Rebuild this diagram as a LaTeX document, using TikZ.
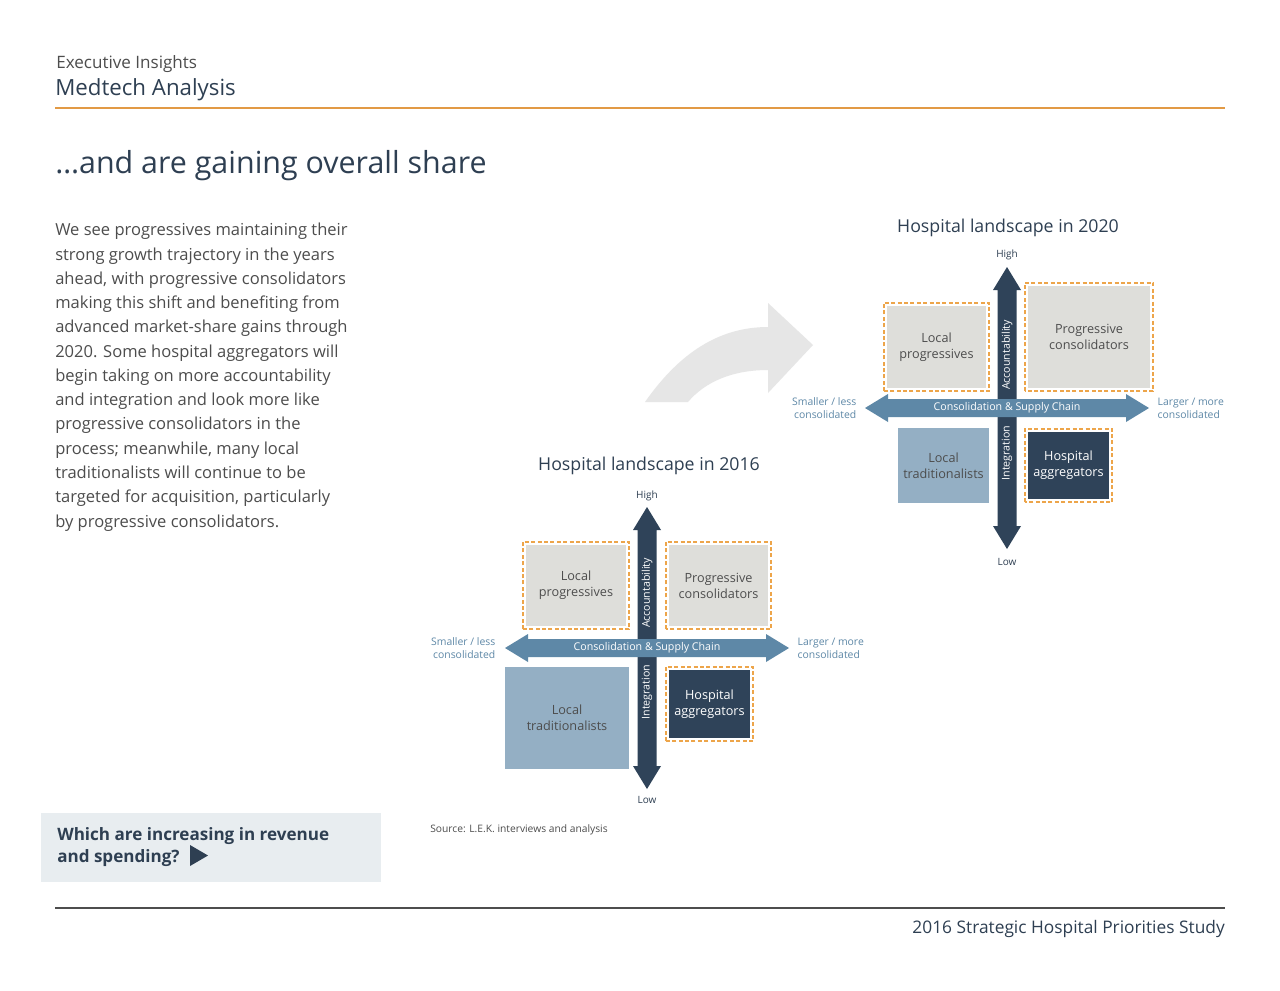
\documentclass[tikz,border=0pt]{standalone}
\usepackage{fontspec}
\setmainfont{Open Sans}
\definecolor{Slate}{HTML}{2E3F52}
\definecolor{Navy}{HTML}{2F4359}
\definecolor{Steel}{HTML}{5E88A7}
\definecolor{Mist}{HTML}{94AFC4}
\definecolor{Stone}{HTML}{DEDEDA}
\definecolor{Amber}{HTML}{EDA54A}
\definecolor{Rule}{HTML}{E29A45}
\definecolor{Graphite}{HTML}{4D4D4D}
\definecolor{Haze}{HTML}{E8EDF0}
\definecolor{Swoosh}{HTML}{E6E6E6}

\tikzset{
  quad/.style={inner sep=0pt, align=center, font=\fontsize{9.5}{12}\selectfont, text=Graphite},
  ring/.style={Amber, line width=1.35pt, dash pattern=on 3pt off 1.8pt},
  endlab/.style={font=\fontsize{7.5}{9}\selectfont, text=Slate},
  sidelab/.style={font=\fontsize{7.8}{9.7}\selectfont, text=Steel},
  barlab/.style={font=\fontsize{8}{9}\selectfont, text=white, inner sep=0pt},
  charthead/.style={font=\fontsize{13.3}{16}\selectfont, text=Slate}
}

\begin{document}
\begin{tikzpicture}[x=0.75pt,y=-0.75pt]
\useasboundingbox[fill=white] (0,0) rectangle (1280,990);
% header
\node[anchor=base west, inner sep=0pt, text=Graphite, font=\fontsize{12.8}{14}\selectfont] (kicker) at (56,68) {Executive Insights};
\node[anchor=base west, inner sep=0pt, text=Slate, font=\fontsize{16.7}{20}\selectfont] (series) at (55,95) {Medtech Analysis};
\draw[Rule, line width=0.8pt] (55,108) -- (1225,108);
\node[anchor=base west, inner sep=0pt, text=Slate, font=\fontsize{22.8}{26}\selectfont] (headline) at (55,173) {…and are gaining overall share};
% body copy
\node[anchor=north west, inner sep=0pt, align=left, text=Graphite, font=\fontsize{12.4}{18.2}\selectfont] (copy) at (55,223)
  {We see progressives maintaining their\\strong growth trajectory in the years\\ahead, with progressive consolidators\\making this shift and benefiting from\\advanced market-share gains through\\2020. Some hospital aggregators will\\begin taking on more accountability\\and integration and look more like\\progressive consolidators in the\\process; meanwhile, many local\\traditionalists will continue to be\\targeted for acquisition, particularly\\by progressive consolidators.};
% question box
\fill[Haze] (41,813) rectangle (381,882);
\node[anchor=north west, inner sep=0pt, align=left, text=Slate, font=\bfseries\fontsize{12.8}{16.5}\selectfont] (question) at (57,827) {Which are increasing in revenue\\and spending?};
\fill[Slate] (190,845) -- (208,855.5) -- (190,866) -- cycle;

% swoosh between the years
\fill[Swoosh] (645,402) .. controls (680,352) and (720,327) .. (768,327) -- (768,303) -- (813,345)
  -- (768,393) -- (768,370) .. controls (732,370) and (705,382) .. (688,402) -- cycle;

% 2016 landscape
\node[charthead] (head16) at (649,466) {Hospital landscape in 2016};
\begin{scope}[shift={(647,648)}]
\fill[Navy] (0,-141) -- (14,-118) -- (9.5,-118) -- (9.5,118) -- (14,118) -- (0,141) -- (-14,118) -- (-9.5,118) -- (-9.5,-118) -- (-14,-118) -- cycle;
\fill[Steel] (-142,0) -- (-119,-14) -- (-119,-9) -- (119,-9) -- (119,-14) -- (142,0) -- (119,14) -- (119,9) -- (-119,9) -- (-119,14) -- cycle;
\node[barlab, rotate=90] (acc16) at (0,-55) {Accountability};
\node[barlab, rotate=90] (int16) at (0,44) {Integration};
\node[barlab] (con16) at (0,0) {Consolidation \& Supply Chain};
\node[endlab] (hi16) at (0,-152) {High};
\node[endlab] (lo16) at (0,152) {Low};
\node[sidelab, anchor=east, align=right] (sm16) at (-147,0) {Smaller / less\\consolidated};
\node[sidelab, anchor=west, align=left] (lg16) at (146,0) {Larger / more\\consolidated};
\end{scope}
\node[quad, fill=Stone, minimum width=75pt, minimum height=60.75pt] (lp16) at (576,585.5) {Local\\progressives};
\draw[ring] ([shift={(-3,3)}]lp16.south west) rectangle ([shift={(3,-3)}]lp16.north east);
\node[quad, fill=Stone, minimum width=74.25pt, minimum height=60.75pt] (pc16) at (718.5,585.5) {Progressive\\consolidators};
\draw[ring] ([shift={(-3,3)}]pc16.south west) rectangle ([shift={(3,-3)}]pc16.north east);
\node[quad, fill=Mist, minimum width=93pt, minimum height=76.5pt] (lt16) at (567,718) {Local\\traditionalists};
\node[quad, fill=Navy, text=white, minimum width=60.75pt, minimum height=51pt] (ha16) at (709.5,704) {Hospital\\aggregators};
\draw[ring] ([shift={(-3,3)}]ha16.south west) rectangle ([shift={(3,-3)}]ha16.north east);

% 2020 landscape
\node[charthead] (head20) at (1008,228) {Hospital landscape in 2020};
\begin{scope}[shift={(1007,408)}]
\fill[Navy] (0,-141) -- (14,-118) -- (9.5,-118) -- (9.5,118) -- (14,118) -- (0,141) -- (-14,118) -- (-9.5,118) -- (-9.5,-118) -- (-14,-118) -- cycle;
\fill[Steel] (-142,0) -- (-119,-14) -- (-119,-9) -- (119,-9) -- (119,-14) -- (142,0) -- (119,14) -- (119,9) -- (-119,9) -- (-119,14) -- cycle;
\node[barlab, rotate=90] (acc20) at (0,-53) {Accountability};
\node[barlab, rotate=90] (int20) at (0,45) {Integration};
\node[barlab] (con20) at (0,0) {Consolidation \& Supply Chain};
\node[endlab] (hi20) at (0,-153) {High};
\node[endlab] (lo20) at (0,154) {Low};
\node[sidelab, anchor=east, align=right] (sm20) at (-146,0) {Smaller / less\\consolidated};
\node[sidelab, anchor=west, align=left] (lg20) at (146,0) {Larger / more\\consolidated};
\end{scope}
\node[quad, fill=Stone, minimum width=74.25pt, minimum height=61.5pt] (lp20) at (936.5,347) {Local\\progressives};
\draw[ring] ([shift={(-3,3)}]lp20.south west) rectangle ([shift={(3,-3)}]lp20.north east);
\node[quad, fill=Stone, minimum width=91.5pt, minimum height=76.5pt] (pc20) at (1089,337) {Progressive\\consolidators};
\draw[ring] ([shift={(-3,3)}]pc20.south west) rectangle ([shift={(3,-3)}]pc20.north east);
\node[quad, fill=Mist, minimum width=68.25pt, minimum height=56.25pt] (lt20) at (943.5,465.5) {Local\\traditionalists};
\node[quad, fill=Navy, text=white, minimum width=60.75pt, minimum height=50.25pt] (ha20) at (1068.5,465.5) {Hospital\\aggregators};
\draw[ring] ([shift={(-3,3)}]ha20.south west) rectangle ([shift={(3,-3)}]ha20.north east);

% source and footer
\node[anchor=west, inner sep=0pt, text=Graphite, font=\fontsize{7.7}{9}\selectfont] (source) at (430,830) {Source: L.E.K. interviews and analysis};
\draw[Graphite, line width=0.8pt] (55,908) -- (1225,908);
\node[anchor=base east, inner sep=0pt, text=Slate, font=\fontsize{13}{16}\selectfont] (study) at (1225,933) {2016 Strategic Hospital Priorities Study};
\end{tikzpicture}
\end{document}
